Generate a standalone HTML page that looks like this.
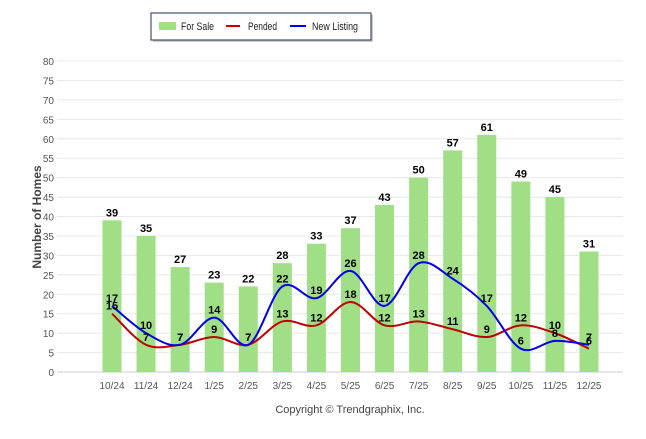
<!DOCTYPE html>
<html><head><meta charset="utf-8"><style>
body{margin:0;background:#fff;font-family:"Liberation Sans",sans-serif;}
svg text{font-family:"Liberation Sans",sans-serif;}
</style></head><body>
<svg id="chart" width="646" height="434" xmlns="http://www.w3.org/2000/svg">
<g id="grid"></g>
<g id="bars"></g>
<g id="lines"></g>
<g id="labels"></g>
<text transform="translate(41,217) rotate(-90)" text-anchor="middle" font-size="12" font-weight="bold" fill="#444">Number of Homes</text>
<text x="350" y="413" text-anchor="middle" font-size="11" fill="#444">Copyright © Trendgraphix, Inc.</text>
<g>
<rect x="153" y="15" width="220" height="27" fill="#999" opacity="0.5"/>
<rect x="151" y="13" width="220" height="27" fill="#fff" stroke="#1f2d50" stroke-width="1"/>
<rect x="159" y="22" width="17" height="8" fill="#a0df86"/>
<text x="181" y="30" font-size="11" fill="#222" textLength="33" lengthAdjust="spacingAndGlyphs">For Sale</text>
<line x1="226" y1="26" x2="240" y2="26" stroke="#c00000" stroke-width="2"/>
<text x="248" y="30" font-size="11" fill="#222" textLength="29" lengthAdjust="spacingAndGlyphs">Pended</text>
<line x1="290" y1="26" x2="306" y2="26" stroke="#0000ee" stroke-width="2"/>
<text x="312" y="30" font-size="11" fill="#222" textLength="46" lengthAdjust="spacingAndGlyphs">New Listing</text>
</g>
</svg>
<script>
const categories=["10/24","11/24","12/24","1/25","2/25","3/25","4/25","5/25","6/25","7/25","8/25","9/25","10/25","11/25","12/25"];
const forSale=[39,35,27,23,22,28,33,37,43,50,57,61,49,45,31];
const pended=[15,7,7,9,7,13,12,18,12,13,11,9,12,10,6];
const newListing=[17,10,7,14,7,22,19,26,17,28,24,17,6,8,7];
const yTicks=[0,5,10,15,20,25,30,35,40,45,50,55,60,65,70,75,80];
const NS="http://www.w3.org/2000/svg";
const y=v=>372-v*(311/80);
const x=i=>112+i*34.07;
function mk(t,a,p){const e=document.createElementNS(NS,t);for(const k in a)e.setAttribute(k,a[k]);p.appendChild(e);return e;}
const grid=document.getElementById('grid');
yTicks.forEach(t=>{
 const l=mk('line',{x1:57,x2:623,y1:y(t),y2:y(t),stroke:t===0?'#ccc':'#e8e8e8','stroke-width':1},grid);
 
 
 const tx=mk('text',{x:54,y:y(t)+4,'text-anchor':'end','font-size':10,fill:'#555'},grid);
 tx.textContent=t;
 
 
});
categories.forEach((c,i)=>{
 const tx=mk('text',{x:x(i),y:389,'text-anchor':'middle','font-size':10,fill:'#555'},grid);
 tx.textContent=c;
 
 
});
const bars=document.getElementById('bars'),labels=document.getElementById('labels');
forSale.forEach((v,i)=>{
 const r=mk('rect',{x:x(i)-9.5,y:y(v),width:19,height:372-y(v),fill:'#a0df86'},bars);
 
 
 const t=mk('text',{x:x(i),y:y(v)-4,'text-anchor':'middle','font-size':11,'font-weight':'bold',fill:'#000'},labels);
 t.textContent=v;
 
 
});
function spline(vals){
 const pts=vals.map((v,i)=>[x(i),y(v)]);
 let d=`M${pts[0][0]},${pts[0][1]}`;
 for(let i=0;i<pts.length-1;i++){
  const p0=pts[Math.max(0,i-1)],p1=pts[i],p2=pts[i+1],p3=pts[Math.min(pts.length-1,i+2)];
  const k=1/6;
  const c1=[p1[0]+(p2[0]-p0[0])*k,p1[1]+(p2[1]-p0[1])*k];
  const c2=[p2[0]-(p3[0]-p1[0])*k,p2[1]-(p3[1]-p1[1])*k];
  d+=` C${c1[0]},${c1[1]} ${c2[0]},${c2[1]} ${p2[0]},${p2[1]}`;
 }
 return d;
}
const lines=document.getElementById('lines');
const pl=mk('path',{d:spline(pended),fill:'none',stroke:'#c00000','stroke-width':2},lines);


const nl=mk('path',{d:spline(newListing),fill:'none',stroke:'#0000ee','stroke-width':2},lines);


pended.forEach((v,i)=>{
 const t=mk('text',{x:x(i),y:y(v)-4,'text-anchor':'middle','font-size':11,'font-weight':'bold',fill:'#000'},labels);
 t.textContent=v;
 
 
});
newListing.forEach((v,i)=>{
 const t=mk('text',{x:x(i),y:y(v)-4,'text-anchor':'middle','font-size':11,'font-weight':'bold',fill:'#000'},labels);
 t.textContent=v;
 
 
});
</script>
</body></html>
